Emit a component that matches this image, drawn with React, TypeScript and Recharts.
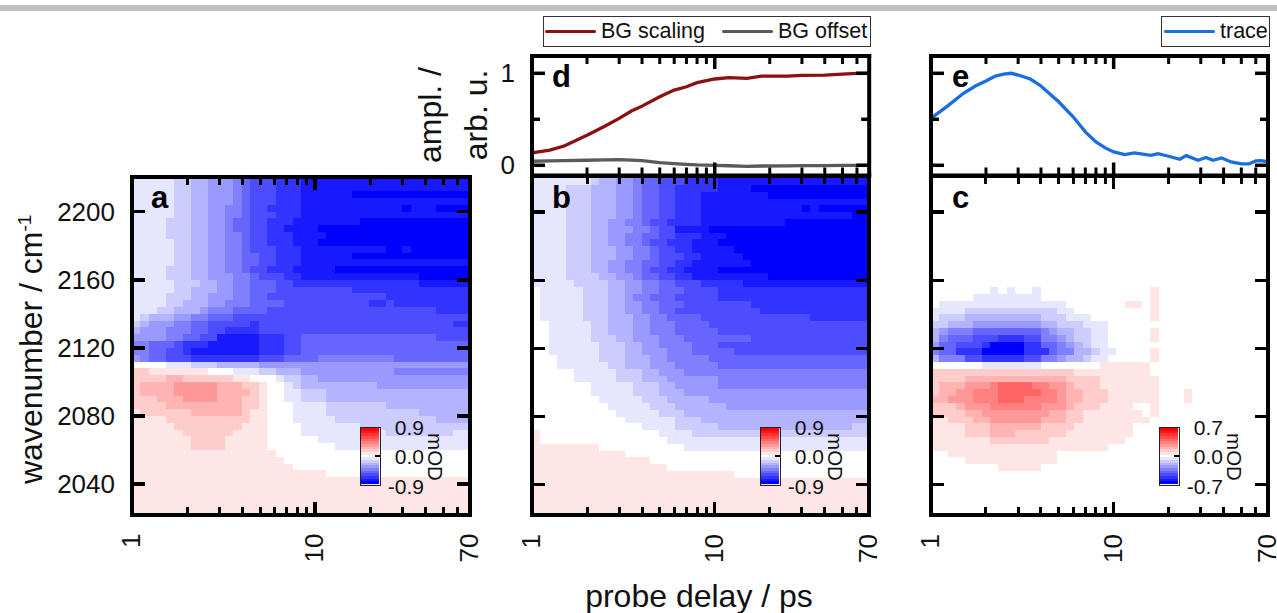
import { ComposedChart, LineChart, BarChart, Bar, Cell, Line, Legend, ReferenceArea, XAxis, YAxis } from "recharts";

// probe delay (ps) edges of the heatmap columns
const delayEdges = [
  1, 1.112, 1.237, 1.376, 1.53, 1.701, 1.892, 2.104, 2.34, 2.602, 2.894, 3.218, 3.579, 3.98, 4.427, 4.923, 5.474,
  6.088, 6.771, 7.53, 8.374, 9.312, 10.36, 11.52, 12.81, 14.24, 15.84, 17.61, 19.59, 21.78, 24.22, 26.94, 29.96,
  33.32, 37.05, 41.2, 45.82, 50.96, 56.67, 63.02, 70,
];
// wavenumber (cm-1) edges of the heatmap rows
const rowEdges = [
  2220, 2216, 2212, 2208, 2204, 2200, 2196, 2192, 2188, 2184, 2180, 2176, 2172, 2168, 2164, 2160, 2156, 2152, 2148,
  2144, 2140, 2136, 2132, 2128, 2124, 2120, 2116, 2112, 2108, 2104, 2100, 2096, 2092, 2088, 2084, 2080, 2076, 2072,
  2068, 2064, 2060, 2056, 2052, 2048, 2044, 2040, 2036, 2032, 2028, 2024, 2020,
];

// each row: level (tenths of full scale), column where it ends, level, column, ...
const panelA = [
  [-1,5,-2,7,-3,9,-4,12,-5,13,-6,14,-7,17,-8,20,-9,40],
  [-1,5,-2,7,-3,9,-4,12,-5,13,-6,14,-7,17,-8,20,-9,40],
  [-1,5,-2,7,-3,9,-4,12,-5,13,-6,14,-7,17,-8,20,-9,26,-10,40],
  [-1,5,-2,7,-3,9,-4,12,-5,13,-6,14,-7,17,-8,20,-9,40],
  [-1,5,-2,7,-3,9,-4,11,-5,13,-6,14,-7,16,-8,20,-9,32,-10,33,-9,36,-10,40],
  [-1,5,-2,7,-3,9,-4,11,-5,13,-6,14,-7,17,-8,20,-9,40],
  [-1,4,-2,7,-3,9,-4,11,-5,12,-6,14,-7,16,-8,19,-9,27,-10,40],
  [-1,4,-2,7,-3,9,-4,11,-5,12,-6,14,-7,16,-8,18,-9,22,-10,40],
  [-1,4,-2,7,-3,9,-4,11,-5,13,-6,14,-7,16,-8,19,-9,23,-10,40],
  [-1,5,-2,7,-3,9,-4,11,-5,13,-6,14,-7,16,-8,19,-9,22,-10,40],
  [-1,5,-2,7,-3,9,-4,11,-5,13,-6,14,-7,17,-8,20,-9,30,-10,32,-9,33,-10,40],
  [-1,5,-2,7,-3,9,-4,11,-5,13,-6,15,-7,17,-8,20,-9,26,-10,40],
  [-1,5,-2,7,-3,9,-4,11,-5,13,-6,15,-7,17,-8,20,-9,40],
  [-1,4,-2,7,-3,9,-4,11,-5,13,-6,14,-7,16,-8,19,-9,24,-10,40],
  [-1,4,-2,7,-3,9,-4,12,-5,14,-6,15,-7,18,-8,20,-9,34,-10,40],
  [-1,5,-2,8,-3,10,-4,12,-5,14,-6,17,-7,19,-8,34,-9,40],
  [-1,5,-2,7,-3,10,-4,12,-5,14,-6,17,-7,26,-8,40],
  [-1,4,-2,7,-3,9,-4,12,-5,14,-6,16,-7,30,-8,40],
  [-1,4,-2,6,-3,9,-4,11,-5,14,-6,18,-7,28,-8,30,-7,31,-8,40],
  [-1,3,-2,5,-3,8,-4,9,-5,12,-6,16,-7,36,-8,40],
  [-1,1,-2,2,-3,5,-4,7,-5,9,-6,12,-7,40],
  [-2,1,-3,2,-4,5,-5,7,-6,9,-7,14,-8,15,-7,38,-8,40],
  [-3,1,-4,4,-5,7,-6,9,-7,11,-8,15,-7,40],
  [-4,4,-5,6,-6,8,-7,10,-9,15,-8,18,-7,20,-6,36,-7,40],
  [-5,2,-6,5,-7,6,-8,9,-9,15,-8,18,-7,20,-6,40],
  [-5,2,-6,4,-7,6,-8,7,-9,15,-8,18,-7,20,-6,40],
  [-4,1,-5,2,-6,4,-7,7,-8,15,-7,18,-6,22,-5,31,-6,40],
  [0,4,-1,7,-2,10,-3,15,-4,40],
  [2,2,1,9,0,12,-1,15,-2,17,-3,20,-4,31,-5,40],
  [2,4,3,6,2,12,1,14,0,17,-1,18,-2,20,-3,22,-4,40],
  [2,1,3,5,4,10,3,13,2,15,1,16,0,18,-1,19,-2,20,-3,29,-4,40],
  [2,1,3,5,4,10,3,14,2,15,1,16,0,18,-1,20,-2,23,-3,40],
  [2,3,3,6,4,10,3,13,2,15,1,16,0,18,-1,20,-2,23,-3,40],
  [2,4,3,13,2,15,1,16,0,19,-1,23,-2,30,-3,40],
  [1,1,2,7,3,13,2,14,1,16,0,19,-1,23,-2,34,-3,40],
  [1,4,2,14,1,16,0,19,-1,24,-2,36,-3,40],
  [1,5,2,13,1,16,0,20,-1,27,-2,40],
  [1,6,2,12,1,16,0,20,-1,30,-2,38,-1,40],
  [1,7,2,11,1,16,0,22,-1,40],
  [1,7,2,11,1,16,0,24,-1,40],
  [1,17,0,40],
  [1,18,0,40],
  [1,19,0,40],
  [1,23,0,40],
  [1,40],
  [1,40],
  [1,40],
  [1,40],
  [1,40],
  [1,40],
];

const panelB = [
  [-1,7,-2,8,-3,10,-4,12,-5,13,-6,15,-7,18,-8,22,-9,40],
  [-1,4,-2,7,-3,10,-4,12,-5,13,-6,15,-7,17,-8,22,-9,26,-10,40],
  [-1,4,-2,7,-3,10,-4,12,-5,13,-6,15,-7,17,-8,20,-9,28,-10,40],
  [-1,4,-2,7,-3,10,-4,12,-5,13,-6,15,-7,17,-8,20,-9,40],
  [-1,4,-2,7,-3,10,-4,12,-5,13,-6,15,-7,17,-8,20,-9,32,-10,33,-9,34,-10,40],
  [-1,4,-2,7,-3,10,-4,12,-5,13,-6,15,-7,17,-8,20,-9,38,-10,40],
  [-1,4,-2,7,-3,9,-4,11,-5,13,-6,14,-7,16,-8,20,-9,30,-10,40],
  [-1,4,-2,7,-3,9,-4,12,-5,14,-6,15,-7,17,-9,21,-10,40],
  [-1,4,-2,7,-3,9,-4,11,-5,13,-6,15,-7,17,-8,20,-9,23,-10,40],
  [-1,4,-2,7,-3,9,-4,11,-5,13,-6,14,-7,16,-8,19,-9,22,-10,40],
  [-1,4,-2,7,-3,10,-4,12,-5,14,-6,15,-7,17,-8,19,-9,24,-10,40],
  [-1,4,-2,7,-3,10,-4,12,-5,14,-6,15,-7,18,-8,20,-9,25,-10,40],
  [-1,4,-2,7,-3,9,-4,11,-5,13,-6,15,-7,17,-8,19,-9,26,-10,40],
  [-1,4,-2,7,-3,9,-4,11,-5,13,-6,14,-7,16,-8,18,-9,22,-10,40],
  [-1,4,-2,8,-3,10,-4,12,-5,13,-6,15,-7,17,-8,19,-9,28,-10,40],
  [-1,5,-2,9,-3,11,-4,13,-5,15,-6,17,-7,20,-8,25,-9,40],
  [0,1,-1,6,-2,9,-3,11,-4,13,-5,15,-6,18,-7,22,-8,40],
  [0,1,-1,6,-2,9,-3,11,-4,12,-5,14,-6,17,-7,22,-8,40],
  [0,1,-1,6,-2,9,-3,11,-4,13,-5,15,-6,18,-7,26,-8,40],
  [0,1,-1,6,-2,9,-3,11,-4,13,-5,15,-6,17,-7,27,-8,40],
  [0,1,-1,6,-2,9,-3,12,-4,14,-5,16,-6,20,-7,33,-8,40],
  [0,2,-1,7,-2,9,-3,12,-4,14,-5,17,-6,21,-7,40],
  [0,2,-1,7,-2,9,-3,12,-4,14,-5,17,-6,22,-7,40],
  [0,2,-1,7,-2,10,-3,12,-4,15,-5,18,-6,26,-7,40],
  [0,2,-1,8,-2,11,-3,13,-4,15,-5,19,-6,22,-7,40],
  [0,2,-1,8,-2,11,-3,13,-4,16,-5,19,-6,24,-7,40],
  [0,3,-1,8,-2,11,-3,14,-4,16,-5,21,-6,40],
  [0,3,-1,9,-2,11,-3,14,-4,17,-5,22,-6,40],
  [0,5,-1,10,-2,13,-3,15,-4,18,-5,40],
  [0,5,-1,10,-2,13,-3,16,-4,22,-5,40],
  [0,7,-1,12,-2,15,-3,17,-4,22,-5,40],
  [0,7,-1,12,-2,15,-3,18,-4,40],
  [0,8,-1,13,-2,16,-3,21,-4,40],
  [0,9,-1,14,-2,17,-3,23,-4,40],
  [0,10,-1,15,-2,18,-3,40],
  [0,11,-1,17,-2,20,-3,40],
  [0,13,-1,17,-2,22,-3,38,-2,40],
  [1,1,0,15,-1,19,-2,40],
  [1,1,0,16,-1,40],
  [1,8,0,18,-1,40],
  [1,11,0,40],
  [1,14,0,40],
  [1,16,0,40],
  [1,24,0,40],
  [1,40],
  [1,40],
  [1,40],
  [1,40],
  [1,40],
  [1,40],
];

const panelC = [
  [0,40],[0,40],[0,40],[0,40],[0,40],[0,40],[0,40],[0,40],
  [0,40],[0,40],[0,40],[0,40],[0,40],[0,40],[0,40],[0,40],
  [0,7,-1,8,0,9,-1,10,0,12,-1,13,0,26,1,27,0,40],
  [0,5,-1,13,0,26,1,27,0,40],
  [0,1,-1,16,0,23,1,25,0,26,1,27,0,40],
  [-1,4,-2,15,-1,17,0,26,1,27,0,40],
  [-1,1,-2,4,-3,13,-2,16,-1,19,0,26,1,27,0,40],
  [-2,2,-3,5,-4,13,-3,15,-2,18,-1,21,0,40],
  [-3,1,-4,2,-5,5,-6,13,-5,14,-4,15,-3,17,-2,19,-1,21,0,26,1,27,0,40],
  [-3,1,-5,2,-6,5,-7,8,-8,11,-7,13,-5,15,-4,16,-3,17,-2,19,-1,21,0,26,1,27,0,40],
  [-4,1,-6,3,-7,6,-8,7,-10,11,-8,13,-6,15,-5,16,-4,17,-3,18,-2,19,-1,21,0,40],
  [-5,1,-6,3,-8,6,-10,11,-8,14,-6,15,-5,17,-3,19,-2,20,-1,22,0,26,1,27,0,40],
  [-3,1,-5,4,-7,6,-8,11,-7,13,-5,15,-4,16,-3,18,-2,19,-1,21,0,26,1,27,0,40],
  [0,6,-1,13,0,20,1,26,0,40],
  [2,17,1,26,0,40],
  [2,4,3,16,2,20,1,26,0,26,1,27,0,40],
  [2,1,3,4,4,7,5,8,6,12,5,14,4,16,3,17,2,20,1,26,0,26,1,27,0,40],
  [2,1,3,3,4,5,5,8,6,13,5,15,4,16,3,18,2,21,1,27,0,30,1,31,0,40],
  [3,2,4,5,5,8,6,11,5,15,4,16,3,18,2,21,1,27,0,30,1,31,0,40],
  [2,3,3,4,4,7,5,13,4,16,3,17,2,20,1,24,0,26,1,27,0,40],
  [2,4,3,6,4,14,3,16,2,18,1,25,0,26,1,27,0,40],
  [1,2,2,5,3,7,4,13,3,16,2,18,1,26,0,40],
  [1,4,2,7,3,13,2,17,1,24,0,40],
  [1,4,2,7,3,10,2,16,1,24,0,40],
  [1,7,2,14,1,23,0,40],
  [1,21,0,40],
  [0,2,1,15,0,40],
  [0,4,1,15,0,40],
  [0,8,1,13,0,40],
  [0,40],[0,40],[0,40],[0,40],[0,40],[0,40],[0,40],
];

const delayTicks = [1, 2, 3, 4, 5, 6, 7, 8, 9, 10, 20, 30, 40, 50, 60, 70];
const delayLabels = [1, 10, 70];
const wavenumberTicks = [2040, 2080, 2120, 2160, 2200];
const amplTicks = [0, 0.5, 1];
const colorbarLevels = [10, 9, 8, 7, 6, 5, 4, 3, 2, 1, 0, -1, -2, -3, -4, -5, -6, -7, -8, -9, -10];

const bgDelays = [1, 1.25, 1.5, 2, 2.5, 3, 3.5, 4, 5, 6, 7, 8, 10, 12, 15, 18, 25, 30, 40, 50, 60, 70];
const bgScaling = [0.134, 0.164, 0.21, 0.327, 0.425, 0.51, 0.59, 0.643, 0.745, 0.818, 0.854, 0.898, 0.938, 0.952, 0.945, 0.97, 0.97, 0.977, 0.981, 0.992, 1.0, 1.0];
const bgOffset = [0.044, 0.048, 0.05, 0.055, 0.059, 0.062, 0.057, 0.05, 0.03, 0.018, 0.01, 0.004, 0, -0.005, -0.011, -0.008, -0.006, -0.004, -0.003, -0.002, 0, 0];
const traceDelays = [1, 1.25, 1.5, 1.75, 2, 2.25, 2.5, 2.75, 3, 3.5, 4, 5, 6, 7, 8, 9, 10, 11.5, 13, 16, 17.5, 20, 23, 25, 29, 32, 35, 39, 44, 50, 55, 60, 64, 70];
const traceValues = [0.51, 0.654, 0.78, 0.862, 0.916, 0.97, 0.992, 1.0, 0.981, 0.938, 0.862, 0.69, 0.527, 0.363, 0.254, 0.189, 0.145, 0.117, 0.134, 0.109, 0.127, 0.098, 0.065, 0.105, 0.054, 0.084, 0.054, 0.08, 0.036, 0.015, 0.015, 0.047, 0.05, 0.04];

const FONT = "'Liberation Sans', Arial, sans-serif";
const INK = "#111";
const frame = { stroke: "#000", strokeWidth: 4, strokeLinecap: "square" as const };

function levelColor(level: number) {
  const c = Math.round(255 * (1 - Math.abs(level) / 10));
  return level > 0 ? `rgb(255,${c},${c})` : `rgb(${c},${c},255)`;
}

function rowSpans(rows: number[][], bottom: number) {
  const spans: { x1: number; x2: number; y1: number; y2: number; level: number }[] = [];
  rows.forEach((row, i) => {
    let start = 0;
    for (let k = 0; k < row.length; k += 2) {
      const level = row[k];
      const end = row[k + 1];
      if (level !== 0 && end > start) {
        spans.push({
          x1: delayEdges[start],
          x2: delayEdges[end],
          y1: Math.max(rowEdges[i + 1], bottom),
          y2: rowEdges[i],
          level,
        });
      }
      start = end;
    }
  });
  return spans;
}

function DelayTick({ x, y, payload, side, labels }: any) {
  const major = payload.value === 10;
  const edge = payload.value === 1 || payload.value === 70;
  const len = major ? 13 : 8;
  const dir = side === "bottom" ? -1 : 1;
  return (
    <g>
      {!edge && <line x1={x} x2={x} y1={y} y2={y + dir * len} stroke="#000" strokeWidth={major ? 3.5 : 3} />}
      {labels && delayLabels.includes(payload.value) && (
        <text
          transform={`translate(${x + 8},${y + 19}) rotate(-90)`}
          textAnchor="end"
          fontFamily={FONT}
          fontSize={26}
          fill={INK}
        >
          {payload.value}
        </text>
      )}
    </g>
  );
}

function ValueTick({ x, y, payload, side, labels, minor }: any) {
  const isMinor = minor && minor.includes(payload.value);
  const len = isMinor ? 8 : 13;
  const dir = side === "left" ? 1 : -1;
  return (
    <g>
      <line x1={x} x2={x + dir * len} y1={y} y2={y} stroke="#000" strokeWidth={3.5} />
      {labels && !isMinor && (
        <text x={x - 17} y={y + 9} textAnchor="end" fontFamily={FONT} fontSize={26} fill={INK}>
          {payload.value}
        </text>
      )}
    </g>
  );
}

function HeatPanel({ rows, left, right, top, labelsY, maxLabel, barLeft, textRight }: any) {
  const bottom = 514.5;
  const boxLeft = left - 80;
  const boxTop = top - 10;
  // extra room on the right so the rotated "70" label is not clipped by the svg
  const pad = Math.min(24, 1277 - right);
  const width = right + pad - boxLeft;
  const height = bottom + 60 - boxTop;
  const domainTop = 2200 + (211.7 - top) / 1.704;
  const domainBottom = 2040 - (bottom - 484.1) / 1.704;
  const spans = rowSpans(rows, domainBottom);
  const axisData = delayEdges.map((delay) => ({ delay, wn: domainBottom }));

  return (
    <>
      <div style={{ position: "absolute", left: boxLeft, top: boxTop, shapeRendering: "crispEdges" }}>
        <ComposedChart
          width={width}
          height={height}
          data={axisData}
          margin={{ top: 9, left: 79, right: pad - 1, bottom: 59 }}
        >
          {spans.map((s, i) => (
            <ReferenceArea
              key={i}
              xAxisId="b"
              yAxisId="l"
              x1={s.x1}
              x2={s.x2}
              y1={s.y1}
              y2={s.y2}
              fill={levelColor(s.level)}
              fillOpacity={1}
              stroke="none"
            />
          ))}
          <Line xAxisId="b" yAxisId="l" dataKey="wn" stroke="none" dot={false} legendType="none" isAnimationActive={false} />
          <XAxis
            xAxisId="b"
            dataKey="delay"
            type="number"
            scale="log"
            domain={[1, 70]}
            ticks={delayTicks}
            interval={0}
            height={1}
            allowDataOverflow
            axisLine={frame}
            tickLine={false}
            tickSize={0}
            tickMargin={0}
            tick={(p: any) => <DelayTick {...p} side="bottom" labels />}
          />
          <XAxis
            xAxisId="t"
            orientation="top"
            dataKey="delay"
            type="number"
            scale="log"
            domain={[1, 70]}
            ticks={delayTicks}
            interval={0}
            height={1}
            allowDataOverflow
            axisLine={frame}
            tickLine={false}
            tickSize={0}
            tickMargin={0}
            tick={(p: any) => <DelayTick {...p} side="top" />}
          />
          <YAxis
            yAxisId="l"
            type="number"
            domain={[domainBottom, domainTop]}
            ticks={wavenumberTicks}
            interval={0}
            width={1}
            allowDataOverflow
            axisLine={frame}
            tickLine={false}
            tickSize={0}
            tickMargin={0}
            tick={(p: any) => <ValueTick {...p} side="left" labels={labelsY} />}
          />
          <YAxis
            yAxisId="r"
            orientation="right"
            type="number"
            domain={[domainBottom, domainTop]}
            ticks={wavenumberTicks}
            interval={0}
            width={1}
            allowDataOverflow
            axisLine={frame}
            tickLine={false}
            tickSize={0}
            tickMargin={0}
            tick={(p: any) => <ValueTick {...p} side="right" />}
          />
        </ComposedChart>
      </div>
      <Colorbar left={barLeft} />
      <svg width={80} height={90} style={{ position: "absolute", left: textRight - 40, top: 412, overflow: "visible" }}>
        <g fontFamily={FONT} fontSize={21} fill={INK} textAnchor="end">
          <text x={40} y={23}>{maxLabel}</text>
          <text x={40} y={52}>0.0</text>
          <text x={40} y={82}>-{maxLabel}</text>
        </g>
        <text
          transform="translate(44,45) rotate(90)"
          textAnchor="middle"
          fontFamily={FONT}
          fontSize={20.5}
          fill={INK}
        >
          mOD
        </text>
      </svg>
    </>
  );
}

function Colorbar({ left }: { left: number }) {
  const data = colorbarLevels.map((level) => ({ level, span: 1 }));
  return (
    <div
      style={{
        position: "absolute",
        left,
        top: 427,
        width: 21,
        height: 59,
        boxSizing: "border-box",
        border: "1.5px solid #222",
        shapeRendering: "crispEdges",
      }}
    >
      <BarChart width={18} height={56} layout="vertical" data={data} margin={{ top: 0, left: 0, right: 0, bottom: 0 }} barCategoryGap={0}>
        <XAxis type="number" domain={[0, 1]} hide />
        <YAxis type="category" dataKey="level" hide />
        <Bar dataKey="span" isAnimationActive={false}>
          {data.map((d) => (
            <Cell key={d.level} fill={levelColor(d.level)} />
          ))}
        </Bar>
      </BarChart>
      <div style={{ position: "absolute", right: 0, top: 27, width: 5, height: 2, background: "#000" }} />
    </div>
  );
}

function LegendBox({ left, top, width, items }: any) {
  return (
    <div
      style={{
        position: "absolute",
        left,
        top,
        width,
        height: 31,
        boxSizing: "border-box",
        border: "1.5px solid #333",
        fontFamily: FONT,
        fontSize: 21.5,
        color: INK,
        background: "#fff",
      }}
    >
      {items.map((it: any) => (
        <span key={it.name}>
          <span
            style={{
              position: "absolute",
              left: it.x,
              top: 12.5,
              width: 51,
              height: 3,
              borderRadius: 2,
              background: it.color,
            }}
          />
          <span style={{ position: "absolute", left: it.x + 56, top: 1, lineHeight: "26px", whiteSpace: "nowrap" }}>
            {it.name}
          </span>
        </span>
      ))}
    </div>
  );
}

function TopPanel({ data, left, right, labelsY, legend, children }: any) {
  const boxLeft = left - 41;
  const width = right + 9 - boxLeft;
  return (
    <div style={{ position: "absolute", left: boxLeft, top: 0 }}>
      <LineChart width={width} height={190} data={data} margin={{ top: 55, left: 40, right: 8, bottom: 13.5 }}>
        <XAxis
          xAxisId="b"
          dataKey="delay"
          type="number"
          scale="log"
          domain={[1, 70]}
          ticks={delayTicks}
          interval={0}
          height={1}
          allowDataOverflow
          axisLine={frame}
          tickLine={false}
          tickSize={0}
          tickMargin={0}
          tick={(p: any) => <DelayTick {...p} side="bottom" />}
        />
        <XAxis
          xAxisId="t"
          orientation="top"
          dataKey="delay"
          type="number"
          scale="log"
          domain={[1, 70]}
          ticks={delayTicks}
          interval={0}
          height={1}
          allowDataOverflow
          axisLine={frame}
          tickLine={false}
          tickSize={0}
          tickMargin={0}
          tick={(p: any) => <DelayTick {...p} side="top" />}
        />
        <YAxis
          yAxisId="l"
          type="number"
          domain={[-0.111, 1.188]}
          ticks={amplTicks}
          interval={0}
          width={1}
          allowDataOverflow
          axisLine={frame}
          tickLine={false}
          tickSize={0}
          tickMargin={0}
          tick={(p: any) => <ValueTick {...p} side="left" labels={labelsY} minor={[0.5]} />}
        />
        <YAxis
          yAxisId="r"
          orientation="right"
          type="number"
          domain={[-0.111, 1.188]}
          ticks={amplTicks}
          interval={0}
          width={1}
          allowDataOverflow
          axisLine={frame}
          tickLine={false}
          tickSize={0}
          tickMargin={0}
          tick={(p: any) => <ValueTick {...p} side="right" minor={[0.5]} />}
        />
        {children}
        <Legend
          layout="horizontal"
          verticalAlign="middle"
          align="center"
          wrapperStyle={{ position: "absolute", left: 0, top: 0, width: 0, height: 0 }}
          content={() => <LegendBox {...legend} left={legend.left - boxLeft} />}
        />
      </LineChart>
    </div>
  );
}

export default function App() {
  const bgData = bgDelays.map((delay, i) => ({ delay, scaling: bgScaling[i], offset: bgOffset[i] }));
  const traceData = traceDelays.map((delay, i) => ({ delay, trace: traceValues[i] }));

  return (
    <div style={{ position: "absolute", left: 0, top: 0, width: 1277, height: 613, background: "#fff", overflow: "hidden" }}>
      <div style={{ position: "absolute", left: 0, top: 5, width: 1277, height: 6, background: "#c0c0c0" }} />

      <TopPanel
        data={bgData}
        left={531.5}
        right={868.7}
        labelsY
        legend={{
          left: 543,
          top: 16,
          width: 328,
          items: [
            { name: "BG scaling", color: "#8b1010", x: 1 },
            { name: "BG offset", color: "#5a5a5a", x: 178 },
          ],
        }}
      >
        <Line xAxisId="b" yAxisId="l" dataKey="scaling" name="BG scaling" stroke="#8b1010" strokeWidth={3.3} dot={false} isAnimationActive={false} />
        <Line xAxisId="b" yAxisId="l" dataKey="offset" name="BG offset" stroke="#5a5a5a" strokeWidth={3.3} dot={false} isAnimationActive={false} />
      </TopPanel>

      <TopPanel
        data={traceData}
        left={931}
        right={1268}
        legend={{ left: 1161, top: 16, width: 109, items: [{ name: "trace", color: "#1a6fdc", x: 2 }] }}
      >
        <Line xAxisId="b" yAxisId="l" dataKey="trace" name="trace" stroke="#1a6fdc" strokeWidth={3.3} dot={false} isAnimationActive={false} />
      </TopPanel>

      <HeatPanel rows={panelA} left={132} right={470} top={177} labelsY maxLabel="0.9" barLeft={359.5} textRight={424} />
      <HeatPanel rows={panelB} left={531.5} right={868.7} top={175.5} maxLabel="0.9" barLeft={759.5} textRight={824} />
      <HeatPanel rows={panelC} left={931} right={1268} top={175.5} maxLabel="0.7" barLeft={1159} textRight={1223} />

      <svg width={1277} height={613} style={{ position: "absolute", left: 0, top: 0, pointerEvents: "none" }}>
        <g fontFamily={FONT} fontSize={31} fontWeight={700} fill="#000">
          <text x={151} y={208}>a</text>
          <text x={552} y={208}>b</text>
          <text x={952} y={208}>c</text>
          <text x={552} y={87}>d</text>
          <text x={952} y={87}>e</text>
        </g>
        <g fontFamily={FONT} fontSize={32} fill={INK}>
          <text transform="translate(42,484) rotate(-90)">
            wavenumber / cm<tspan dy={-11} fontSize={19}>-1</tspan>
          </text>
          <text transform="translate(441,115) rotate(-90)" textAnchor="middle">ampl. /</text>
          <text transform="translate(487,115) rotate(-90)" textAnchor="middle">arb. u.</text>
          <text x={699} y={607} textAnchor="middle">probe delay / ps</text>
        </g>
      </svg>
    </div>
  );
}
